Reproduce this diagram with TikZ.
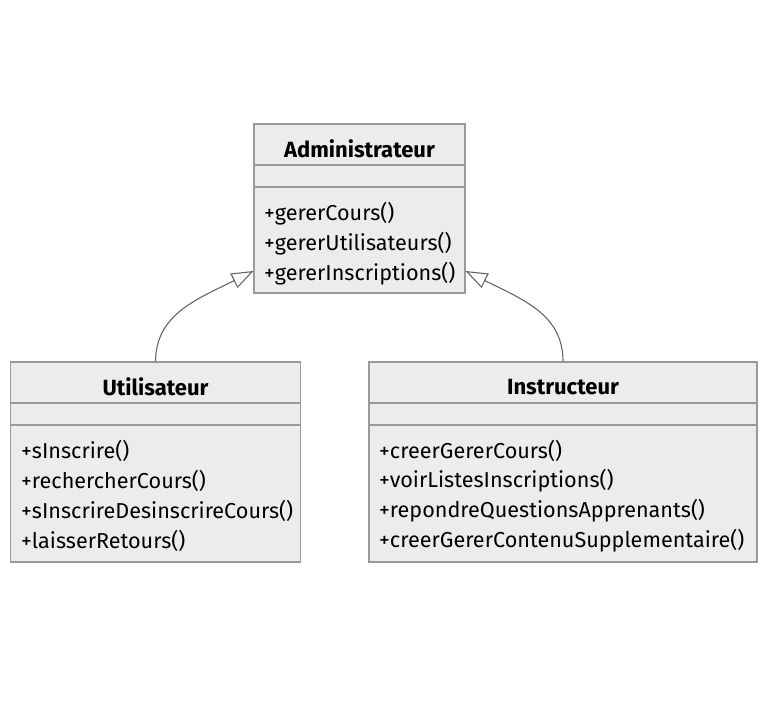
\documentclass[tikz,border=0pt]{standalone}
\usepackage{fontspec}
\setmainfont{Fira Sans}
\usetikzlibrary{arrows.meta}
\definecolor{boxfill}{HTML}{ECECEC}
\definecolor{boxline}{HTML}{9A9A9A}
\definecolor{linkline}{HTML}{666666}
\tikzset{
  classbox/.style={draw=boxline, fill=boxfill, line width=1.2pt, inner sep=0pt},
  divider/.style={draw=boxline, line width=1.2pt},
  title/.style={font=\fontsize{22}{24}\selectfont\bfseries, inner sep=0pt},
  member/.style={font=\fontsize{21.6}{24}\selectfont, anchor=west, inner sep=0pt},
  inherit/.style={draw=linkline, line width=1.1pt,
    -{Triangle[open, length=22pt, width=16pt, fill=white]}},
}
\begin{document}
\begin{tikzpicture}[x=1pt, y=-1pt]
\useasboundingbox (0,0) rectangle (768,708);
\fill[white] (0,0) rectangle (768,708);

% Administrateur
\node[classbox, minimum width=211pt, minimum height=169pt] (adm) at (359.5,208.5) {};
\draw[divider] (254,165) -- (465,165);
\draw[divider] (254,187) -- (465,187);
\node[title] (admT) at (359.5,149) {Administrateur};
\node[member] (adm1) at (264,213.5) {+gererCours()};
\node[member] (adm2) at (264,243.5) {+gererUtilisateurs()};
\node[member] (adm3) at (264,273.5) {+gererInscriptions()};

% Utilisateur
\node[classbox, minimum width=290pt, minimum height=200pt] (usr) at (155.5,462) {};
\draw[divider] (10.5,403) -- (300.5,403);
\draw[divider] (10.5,425) -- (300.5,425);
\node[title] (usrT) at (155.5,387) {Utilisateur};
\node[member] (usr1) at (21,450.5) {+sInscrire()};
\node[member] (usr2) at (21,480.5) {+rechercherCours()};
\node[member] (usr3) at (21,511) {+sInscrireDesinscrireCours()};
\node[member] (usr4) at (21,541) {+laisserRetours()};

% Instructeur
\node[classbox, minimum width=388pt, minimum height=200pt] (ins) at (563,462) {};
\draw[divider] (369,403) -- (757,403);
\draw[divider] (369,425) -- (757,425);
\node[title] (insT) at (563,387) {Instructeur};
\node[member] (ins1) at (379,450.5) {+creerGererCours()};
\node[member] (ins2) at (379,480.5) {+voirListesInscriptions()};
\node[member] (ins3) at (379,511) {+repondreQuestionsApprenants()};
\node[member] (ins4) at (379,541) {+creerGererContenuSupplementaire()};

% Generalisation links
\coordinate (admL) at (253.5,271);
\coordinate (admR) at (465.5,271);
\draw[inherit] (usr.north) .. controls (156,315) and (195,300) .. (admL);
\draw[inherit] (ins.north) .. controls (563,315) and (524,300) .. (admR);
\end{tikzpicture}
\end{document}
